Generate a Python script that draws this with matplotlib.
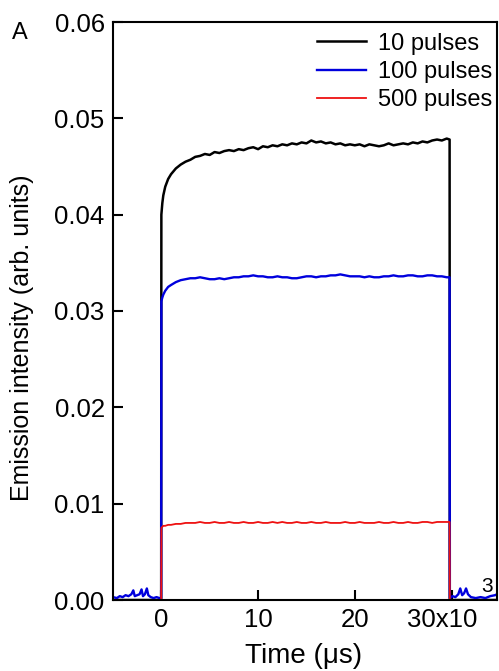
import matplotlib
matplotlib.use("Agg")
import matplotlib.pyplot as plt
import matplotlib.transforms as mtransforms

plt.rcParams['font.family'] = ['Liberation Sans', 'DejaVu Sans']

# time axis during excitation (us)
t_on = [0, 100, 200, 400, 700, 1000, 1500, 2000, 2500, 3000, 3500, 4000, 4500,
        5000, 5500, 6000, 6500, 7000, 7500, 8000, 8500, 9000, 9500,
        10000, 10500, 11000, 11500, 12000, 12500, 13000, 13500, 14000, 14500,
        15000, 15500, 16000, 16500, 17000, 17500, 18000, 18500, 19000, 19500,
        20000, 20500, 21000, 21500, 22000, 22500, 23000, 23500, 24000, 24500,
        25000, 25500, 26000, 26500, 27000, 27500, 28000, 28500, 29000, 29500,
        29800]

p10_on = [0.0400, 0.0412, 0.0420, 0.0429, 0.0437, 0.0442, 0.0448, 0.0452, 0.0455,
          0.0457, 0.0460, 0.0461, 0.0463,
          0.0462, 0.0465, 0.0464, 0.0466, 0.0467, 0.0466, 0.0468, 0.0467, 0.0469, 0.0470,
          0.0468, 0.0471, 0.0470, 0.0472, 0.0471, 0.0473, 0.0472, 0.0474, 0.0473, 0.0475,
          0.0474, 0.0477, 0.0475, 0.0476, 0.0474, 0.0475, 0.0473, 0.0474, 0.0472, 0.0473,
          0.0472, 0.0473, 0.0471, 0.0473, 0.0472, 0.0471, 0.0472, 0.0474, 0.0472, 0.0473,
          0.0474, 0.0473, 0.0475, 0.0474, 0.0476, 0.0475, 0.0477, 0.0478, 0.0477, 0.0479,
          0.0478]

p100_on = [0.0310, 0.0314, 0.0317, 0.0321, 0.0325, 0.0327, 0.0330, 0.0332, 0.0333,
           0.0334, 0.0334, 0.0335, 0.0334,
           0.0333, 0.0333, 0.0334, 0.0333, 0.0334, 0.0335, 0.0335, 0.0336, 0.0336, 0.0337,
           0.0336, 0.0336, 0.0335, 0.0335, 0.0336, 0.0335, 0.0335, 0.0334, 0.0334, 0.0335,
           0.0336, 0.0336, 0.0335, 0.0336, 0.0336, 0.0337, 0.0337, 0.0338, 0.0337, 0.0336,
           0.0336, 0.0336, 0.0335, 0.0336, 0.0335, 0.0335, 0.0336, 0.0336, 0.0337, 0.0336,
           0.0336, 0.0337, 0.0337, 0.0336, 0.0336, 0.0337, 0.0337, 0.0336, 0.0336, 0.0335,
           0.0335]

p500_on = [0.0075, 0.0076, 0.0077, 0.0077, 0.0078, 0.0078, 0.0079, 0.0079, 0.0080,
           0.0080, 0.0080, 0.0081, 0.0080,
           0.0080, 0.0081, 0.0080, 0.0080, 0.0081, 0.0080, 0.0080, 0.0081, 0.0080, 0.0080,
           0.0081, 0.0080, 0.0080, 0.0081, 0.0080, 0.0081, 0.0080, 0.0080, 0.0081, 0.0080,
           0.0080, 0.0081, 0.0080, 0.0080, 0.0081, 0.0080, 0.0080, 0.0080, 0.0081, 0.0080,
           0.0080, 0.0081, 0.0080, 0.0080, 0.0080, 0.0081, 0.0080, 0.0080, 0.0081, 0.0080,
           0.0080, 0.0081, 0.0080, 0.0080, 0.0081, 0.0081, 0.0080, 0.0081, 0.0081, 0.0081,
           0.0081]

# background before and after the pulse train
t_pre = [-5000, -4600, -4300, -4000, -3700, -3400, -3100, -2900, -2750, -2500, -2250,
         -2050, -1900, -1700, -1500, -1350, -1100, -800, -500, -200, -20]
p100_pre = [0.0003, 0.0002, 0.0004, 0.0003, 0.0005, 0.0004, 0.0006, 0.0010, 0.0004,
            0.0005, 0.0006, 0.0011, 0.0004, 0.0006, 0.0012, 0.0005, 0.0003, 0.0002,
            0.0003, 0.0002, 0.0002]
t_post = [29820, 30100, 30400, 30700, 30900, 31100, 31300, 31500, 31700, 32000,
          32500, 33000, 33500, 34000, 34500, 34700]
p100_post = [0.0002, 0.0004, 0.0003, 0.0006, 0.0012, 0.0005, 0.0007, 0.0012, 0.0006,
             0.0003, 0.0002, 0.0003, 0.0002, 0.0004, 0.0005, 0.0006]
p10_pre = [0.0] * len(t_pre)
p10_post = [0.0] * len(t_post)
p500_pre = [0.0] * len(t_pre)
p500_post = [0.0] * len(t_post)

labels = ["10 pulses", "100 pulses", "500 pulses"]
colors = ["black", "#0000dd", "#ee1111"]

fig = plt.figure(figsize=(4.99, 6.71), dpi=100)
ax = fig.add_axes([113 / 499, 1 - 600 / 671, 384 / 499, 578 / 671])

t_all = t_pre + t_on + t_post
ax.plot(t_all, p10_pre + p10_on + p10_post, color=colors[0], lw=1.8, label=labels[0])
ax.plot(t_all, p100_pre + p100_on + p100_post, color=colors[1], lw=1.7, label=labels[1])
ax.plot(t_all, p500_pre + p500_on + p500_post, color=colors[2], lw=1.3, label=labels[2])

ax.set_xlim(-5000, 34700)
ax.set_ylim(0, 0.06)
ax.set_xticks([0, 10000, 20000, 30000])
ax.set_xticklabels(["0", "10", "20", "30x10"])
ax.set_yticks([0, 0.01, 0.02, 0.03, 0.04, 0.05, 0.06])
ax.set_yticklabels(["0.00", "0.01", "0.02", "0.03", "0.04", "0.05", "0.06"])
ax.tick_params(direction='in', length=7, width=1.5, labelsize=18.5, pad=6)
for s in ax.spines.values():
    s.set_linewidth(1.5)

# shift the last tick label left so the exponent fits beside it
lab = ax.get_xticklabels()[-1]
lab.set_transform(lab.get_transform() + mtransforms.ScaledTranslation(-9 / 100, 0, fig.dpi_scale_trans))
fig.text(487 / 499, 1 - 586 / 671, "3", fontsize=15, ha='center', va='center')

fig.text(304 / 499, 1 - 656 / 671, "Time (μs)", fontsize=20, ha='center', va='center')
fig.text(22 / 499, 1 - 338 / 671, "Emission intensity (arb. units)", fontsize=18,
         rotation=90, ha='center', va='center')
fig.text(20 / 499, 1 - 33 / 671, "A", fontsize=17, ha='center', va='center')

ax.legend(frameon=False, loc='upper right', bbox_to_anchor=(1.0, 0.99), fontsize=17,
          handlelength=2.1, handletextpad=0.5, labelspacing=0.27, borderaxespad=0.1,
          borderpad=0.1)

fig.savefig("out.png", dpi=100)
